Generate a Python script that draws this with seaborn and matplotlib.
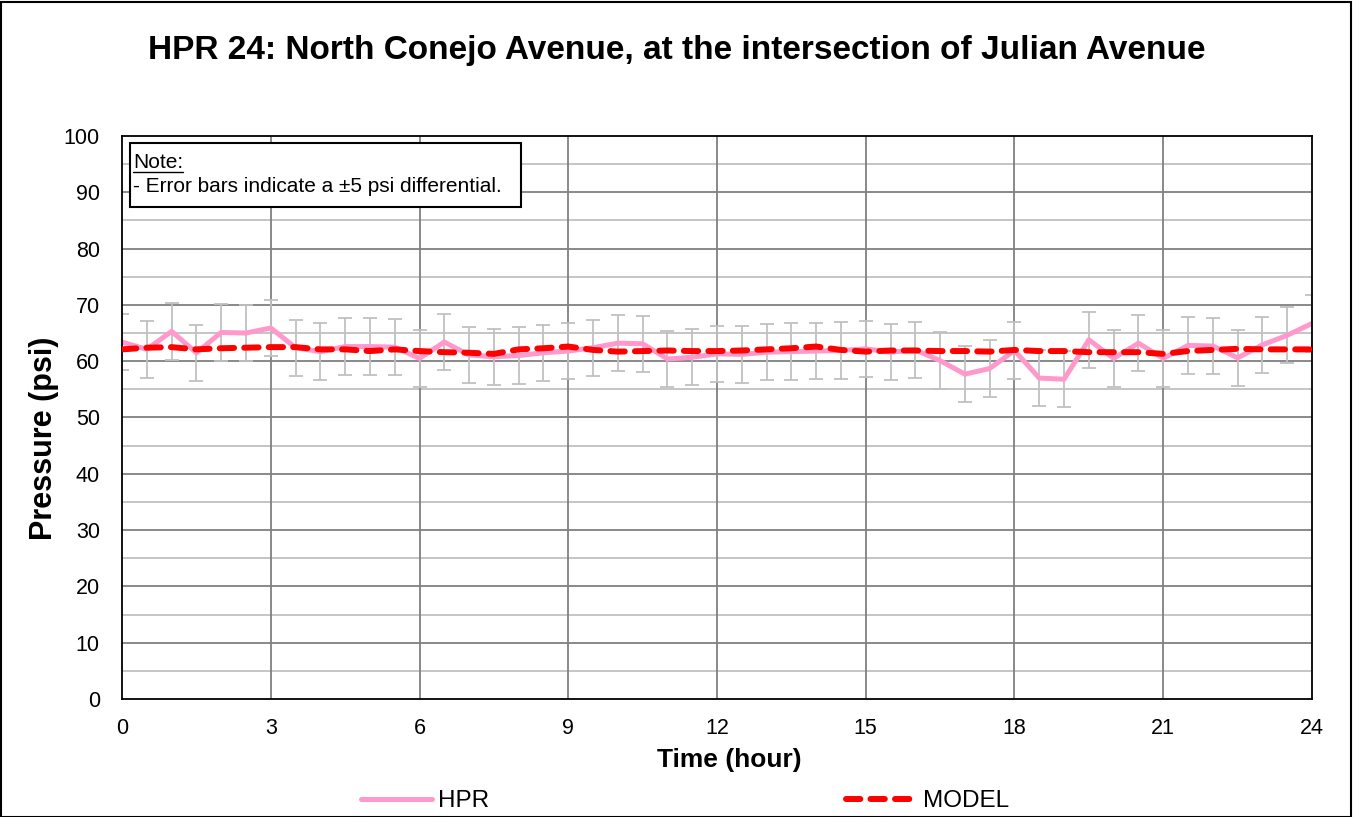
import numpy as np
import pandas as pd
import matplotlib
matplotlib.use("Agg")
import matplotlib.pyplot as plt
import seaborn as sns
from matplotlib.patches import Rectangle
from matplotlib.ticker import MultipleLocator

sns.set_style("white")
plt.rcParams['font.family'] = ['Liberation Sans', 'DejaVu Sans']
plt.rcParams.update({"text.color": "black", "axes.labelcolor": "black",
                     "xtick.color": "black", "ytick.color": "black"})

# ---- data ----
hours = [0, 0.5, 1, 1.5, 2, 2.5, 3, 3.5, 4, 4.5, 5, 5.5, 6, 6.5, 7, 7.5, 8, 8.5,
         9, 9.5, 10, 10.5, 11, 11.5, 12, 12.5, 13, 13.5, 14, 14.5, 15, 15.5, 16,
         16.5, 17, 17.5, 18, 18.5, 19, 19.5, 20, 20.5, 21, 21.5, 22, 22.5, 23,
         23.5, 24]
hpr = [63.4, 62.1, 65.3, 61.5, 65.1, 65.0, 65.9, 62.4, 61.7, 62.6, 62.6, 62.5,
       60.5, 63.4, 61.1, 60.8, 61.0, 61.5, 61.8, 62.4, 63.2, 63.1, 60.4, 60.7,
       61.3, 61.2, 61.6, 61.7, 61.8, 61.9, 62.2, 61.6, 62.0, 60.1, 57.7, 58.7,
       61.9, 57.0, 56.8, 63.8, 60.5, 63.2, 60.5, 62.8, 62.7, 60.6, 62.9, 64.6,
       66.7]
model = [62.1, 62.4, 62.5, 62.1, 62.3, 62.4, 62.5, 62.5, 62.1, 62.1, 61.8, 62.1,
         61.8, 61.6, 61.5, 61.3, 62.1, 62.3, 62.6, 62.0, 61.7, 61.8, 61.9, 61.8,
         61.8, 61.9, 62.1, 62.3, 62.6, 62.0, 61.7, 61.9, 61.9, 61.8, 61.8, 61.7,
         62.0, 61.8, 61.8, 61.6, 61.6, 61.6, 61.3, 61.8, 62.0, 62.2, 62.1, 62.1,
         62.1]
err = 5
title = "HPR 24: North Conejo Avenue, at the intersection of Julian Avenue"
note_head = "Note:"
note_body = "- Error bars indicate a \u00b15 psi differential."
x_ticks = [0, 3, 6, 9, 12, 15, 18, 21, 24]
y_ticks = [0, 10, 20, 30, 40, 50, 60, 70, 80, 90, 100]

df = pd.DataFrame({"hour": hours, "HPR": hpr, "MODEL": model})

W, H = 1354, 817
fig = plt.figure(figsize=(W/100, H/100), dpi=100)
ax = fig.add_axes([122/W, 1 - 699/H, (1312-122)/W, (699-136)/H])

# gridlines
for y in np.arange(5, 100, 10):
    ax.axhline(y, color="#C0C0C0", lw=1.3, zorder=0)
for y in y_ticks[1:-1]:
    ax.axhline(y, color="#808080", lw=1.3, zorder=0.5)
for x in x_ticks[1:-1]:
    ax.axvline(x, color="#808080", lw=1.3, zorder=0.5)

ax.errorbar(df["hour"], df["HPR"], yerr=err, fmt="none", ecolor="#C0C0C0",
            elinewidth=1.3, capsize=5, capthick=1.3, zorder=1)
sns.lineplot(data=df, x="hour", y="HPR", ax=ax, color="#FF99CC", lw=3.6,
             label="HPR", zorder=2)
sns.lineplot(data=df, x="hour", y="MODEL", ax=ax, color="#FF0000", lw=4.3,
             label="MODEL", zorder=3)
ml = ax.lines[-1]
ml.set_dashes([2.4, 1.7])
ml.set_dash_capstyle("round")

ax.set_xlim(0, 24)
ax.set_ylim(0, 100)
ax.set_xticks(x_ticks)
ax.set_yticks(y_ticks)
ax.xaxis.set_minor_locator(MultipleLocator(1))
ax.tick_params(axis="y", which="major", labelsize=15.5, direction="out",
               length=5, width=1, pad=11)
ax.tick_params(axis="x", which="major", labelsize=15.5, direction="out",
               length=5, width=1, pad=9)
ax.tick_params(axis="x", which="minor", direction="inout", length=8, width=1)
for s in ax.spines.values():
    s.set_color("black")
    s.set_linewidth(1.3)

ax.set_xlabel("Time (hour)", fontsize=19, fontweight="bold")
ax.xaxis.set_label_coords((729 - 122) / 1190, -(760 - 699) / 563)
ax.xaxis.label.set_va("center")
ax.set_ylabel("Pressure (psi)", fontsize=22, fontweight="bold")
ax.yaxis.set_label_coords((44 - 122) / 1190, 1 - (438 - 136) / 563)
ax.yaxis.label.set_va("center")
fig.text(0.5, 1 - 51/H, title, ha="center", va="center", fontsize=24,
         fontweight="bold")

# note box (figure pixel layout)
fig.patches.append(Rectangle((130/W, 1 - 207/H), (521-130)/W, (207-143)/H,
                             transform=fig.transFigure, fc="white", ec="black",
                             lw=1.5, zorder=5))
t1 = fig.text(133/W, 1 - 162/H, note_head, ha="left", va="center",
              fontsize=15, zorder=6)
fig.text(133/W, 1 - 187/H, note_body, ha="left", va="center", fontsize=15,
         zorder=6)
fig.canvas.draw()
bb = t1.get_window_extent()
fig.lines.append(plt.Line2D([bb.x0 / W, bb.x1 / W], [1 - 172/H, 1 - 172/H],
                            transform=fig.transFigure, color="black", lw=1,
                            zorder=7))

if ax.legend_:
    ax.legend_.remove()
h, l = ax.get_legend_handles_labels()
fig.legend(h, l, loc="center", bbox_to_anchor=(685/W, 1 - 801/H), ncol=2,
           frameon=False, fontsize=17.5, handlelength=2.9, handletextpad=0.25,
           columnspacing=14.7, borderaxespad=0, borderpad=0)

fig.patches.append(Rectangle((1/W, 0.0), 1350/W, 1 - 2/H,
                             transform=fig.transFigure, fill=False, ec="black",
                             lw=1.5))
fig.savefig("out.png", dpi=100, facecolor="white")
